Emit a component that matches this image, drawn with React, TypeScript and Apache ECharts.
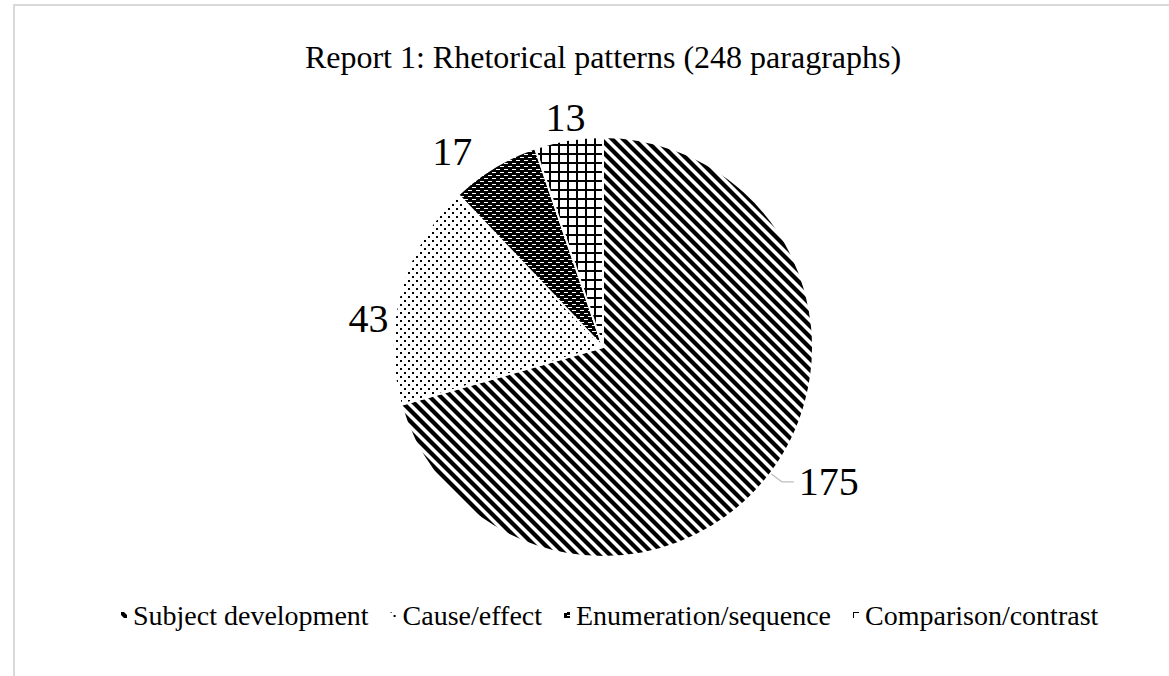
import React, { useEffect, useRef } from "react";
import * as echarts from "echarts";

const chartTitle = "Report 1: Rhetorical patterns (248 paragraphs)";
const categories = ["Subject development", "Cause/effect", "Enumeration/sequence", "Comparison/contrast"];
const values = [175, 43, 17, 13];

const FONT = "Liberation Serif";

function tile(w: number, h: number, bg: string, draw: (c: CanvasRenderingContext2D) => void) {
  const cv = document.createElement("canvas");
  cv.width = w;
  cv.height = h;
  const c = cv.getContext("2d") as CanvasRenderingContext2D;
  c.fillStyle = bg;
  c.fillRect(0, 0, w, h);
  c.fillStyle = "#000";
  c.strokeStyle = "#000";
  draw(c);
  return { image: cv.toDataURL(), repeat: "repeat", imageWidth: w, imageHeight: h } as any;
}

function makePatterns() {
  const stripes = tile(11, 11, "#fff", (c) => {
    c.lineWidth = 4.2;
    for (const off of [-11, 0, 11]) {
      c.beginPath();
      c.moveTo(off - 3, -3);
      c.lineTo(off + 14, 14);
      c.stroke();
    }
  });
  const dots = tile(8, 8, "#fff", (c) => {
    c.fillRect(0, 0, 2, 2);
    c.fillRect(4, 4, 2, 2);
  });
  const dashes = tile(8, 6, "#000", (c) => {
    c.fillStyle = "#fff";
    c.fillRect(0, 1, 4, 1);
    c.fillRect(4, 4, 4, 1);
  });
  const grid = tile(9, 9, "#fff", (c) => {
    c.fillRect(0, 0, 9, 2);
    c.fillRect(0, 0, 2, 9);
  });
  return [stripes, dots, dashes, grid];
}

// label nudges for the unlined outside labels (by data index)
const labelNudges: Record<number, [number, number]> = {
  1: [-7, 27],
  2: [-17, -16],
  3: [22, -22],
};

export default function App() {
  const ref = useRef<HTMLDivElement>(null);
  useEffect(() => {
    if (!ref.current) return;
    const chart = echarts.init(ref.current, undefined, { renderer: "svg" });
    const patterns = makePatterns();
    const data = categories.map((name, i) => ({
      name,
      value: values[i],
      itemStyle: { color: patterns[i] },
      labelLine:
        i === 0
          ? { show: true, length: 14, length2: 12, lineStyle: { color: "#bfbfbf", width: 1.3 } }
          : { show: false, length: 0, length2: 0 },
    }));
    chart.setOption({
      animation: false,
      backgroundColor: "#fff",
      textStyle: { fontFamily: FONT, color: "#000" },
      title: {
        text: chartTitle,
        left: 598,
        textAlign: "center",
        top: 36,
        textStyle: { fontFamily: FONT, fontSize: 32, fontWeight: "normal", color: "#000" },
      },
      legend: {
        top: 596,
        left: 114,
        icon: "rect",
        itemWidth: 8,
        itemHeight: 8,
        itemGap: 20,
        data: categories,
        textStyle: { fontFamily: FONT, fontSize: 28, color: "#000" },
      },
      graphic: [
        {
          type: "rect",
          shape: { x: 14, y: 5, width: 1170, height: 700 },
          style: { fill: "none", stroke: "#d9d9d9", lineWidth: 2 },
          silent: true,
          z: -1,
        },
      ],
      series: [
        {
          type: "pie",
          center: [603, 347],
          radius: 210,
          startAngle: 90,
          clockwise: true,
          avoidLabelOverlap: false,
          itemStyle: { borderColor: "#fff", borderWidth: 2 },
          label: {
            show: true,
            position: "outside",
            formatter: "{c}",
            fontFamily: FONT,
            fontSize: 40,
            color: "#000",
            distanceToLabelLine: 5,
          },
          labelLayout: (p: any) => {
            const n = labelNudges[p.dataIndex];
            return n ? { dx: n[0], dy: n[1] } : {};
          },
          data,
        },
      ],
    });
    return () => chart.dispose();
  }, []);
  return (
    <div
      ref={ref}
      style={{ position: "absolute", left: 0, top: 0, width: 1169, height: 676 }}
    />
  );
}
